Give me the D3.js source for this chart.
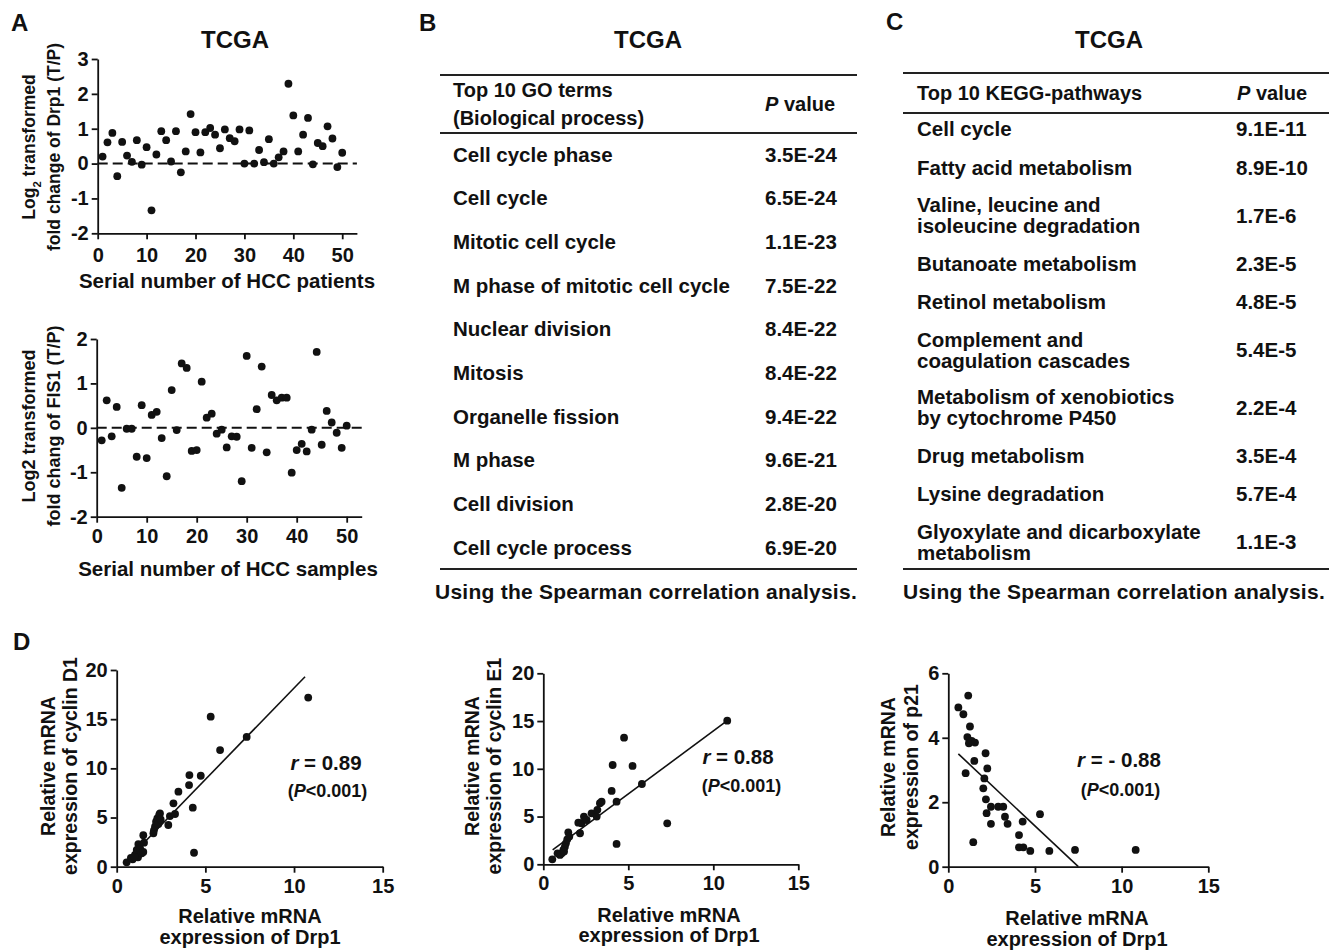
<!DOCTYPE html>
<html>
<head>
<meta charset="utf-8">
<script src="https://cdn.jsdelivr.net/npm/d3@7"></script>
<style>
  html, body { margin: 0; padding: 0; background: #fff; }
  svg { display: block; }
</style>
</head>
<body>
<script>
// ---------- data: panel A ----------
const serialNumbers = [1,2,3,4,5,6,7,8,9,10,11,12,13,14,15,16,17,18,19,20,21,22,23,24,25,
  26,27,28,29,30,31,32,33,34,35,36,37,38,39,40,41,42,43,44,45,46,47,48,49,50];
const drp1FoldChange = [0.2,0.61,0.88,-0.36,0.62,0.23,0.05,0.67,-0.03,0.47,
  -1.34,0.26,0.93,0.67,0.06,0.93,-0.25,0.35,1.42,0.9,
  0.32,0.9,1.02,0.83,0.44,0.98,0.73,0.64,0.98,0,
  0.95,0,0.39,0.04,0.7,0,0.18,0.35,2.29,1.38,
  0.35,0.83,1.31,-0.02,0.59,0.5,1.07,0.72,-0.1,0.31];
const fis1FoldChange = [-0.28,0.62,-0.19,0.47,-1.35,-0.02,-0.02,-0.65,0.51,-0.68,
  0.29,0.36,-0.23,-1.09,0.85,-0.05,1.45,1.35,-0.52,-0.5,
  1.04,0.23,0.32,-0.13,-0.04,-0.44,-0.19,-0.2,-1.2,1.62,
  -0.45,0.42,1.38,-0.55,0.74,0.62,0.68,0.68,-1.01,-0.5,
  -0.36,-0.53,-0.04,1.71,-0.38,0.38,0.12,-0.11,-0.45,0.05];
const serialTicks = [0,10,20,30,40,50];
const drp1Ticks = [-2,-1,0,1,2,3];
const fis1Ticks = [-2,-1,0,1,2];

// ---------- data: panel B ----------
const goTerms = ["Cell cycle phase","Cell cycle","Mitotic cell cycle","M phase of mitotic cell cycle",
  "Nuclear division","Mitosis","Organelle fission","M phase","Cell division","Cell cycle process"];
const goPValues = ["3.5E-24","6.5E-24","1.1E-23","7.5E-22","8.4E-22","8.4E-22","9.4E-22","9.6E-21","2.8E-20","6.9E-20"];

// ---------- data: panel C ----------
const keggTerms = [["Cell cycle"],["Fatty acid metabolism"],["Valine, leucine and","isoleucine degradation"],
  ["Butanoate metabolism"],["Retinol metabolism"],["Complement and","coagulation cascades"],
  ["Metabolism of xenobiotics","by cytochrome P450"],["Drug metabolism"],["Lysine degradation"],
  ["Glyoxylate and dicarboxylate","metabolism"]];
const keggPValues = ["9.1E-11","8.9E-10","1.7E-6","2.3E-5","4.8E-5","5.4E-5","2.2E-4","3.5E-4","5.7E-4","1.1E-3"];

// ---------- data: panel D ----------
const drp1ForD1 = [0.56,0.8,0.9,1.03,1.13,1.2,1.22,1.32,1.41,1.5,1.5,1.54,1.0,
  2.07,2.1,2.16,2.22,2.29,2.35,2.4,2.44,2.48,2.91,3.0,3.2,3.29,3.48,
  4.08,4.1,4.29,4.36,4.74,5.3,5.83,7.33,10.8];
const cyclinD1 = [0.44,0.9,0.75,1.19,1.7,0.95,2.3,1.86,1.36,3.2,1.5,2.44,1.0,
  3.4,3.7,4.07,4.58,4.9,4.34,5.3,5.42,4.8,4.24,5.15,6.44,5.36,7.63,
  8.3,9.32,6.0,1.42,9.25,15.25,11.86,13.2,17.2];
const fitD1X = [0.5, 10.62], fitD1Y = [0.5, 19.32];

const drp1ForE1 = [0.53,0.84,0.98,1.08,1.18,1.22,1.27,1.33,1.41,1.47,1.53,
  2.06,2.16,2.25,2.39,2.55,2.84,3.14,3.18,3.33,3.43,
  4.02,4.08,4.31,4.31,4.75,5.25,5.8,7.29,10.82];
const cyclinE1 = [0.52,1.15,0.98,1.15,1.5,1.33,1.85,2.2,2.62,3.35,2.9,
  4.36,3.25,4.3,5.0,4.64,5.34,5.0,5.7,6.4,6.56,
  7.68,10.4,6.56,2.13,13.26,10.3,8.41,4.29,15.04];
const fitE1X = [0.55, 10.82], fitE1Y = [1.5, 15.04];

const drp1ForP21 = [0.58,0.87,1.15,1.25,1.1,1.19,1.35,1.54,1.0,1.5,
  2.15,2.25,2.08,2.02,2.17,2.21,2.46,2.46,2.88,3.17,
  3.27,3.42,4.29,4.08,4.08,4.33,4.73,5.29,5.83,7.31,1.44,10.81];
const p21 = [4.94,4.73,5.31,4.35,4.02,3.83,3.9,3.85,2.9,3.28,
  3.52,3.05,2.74,2.43,2.09,1.66,1.86,1.33,1.86,1.86,
  1.55,1.33,1.4,0.98,0.6,0.6,0.49,1.63,0.49,0.52,0.76,0.52];
const fitP21X = [0.58, 7.5], fitP21Y = [3.5, 0];

const drp1Ticks15 = [0,5,10,15];
const cyclinTicks = [0,5,10,15,20];
const p21Ticks = [0,2,4,6];

// ---------- drawing ----------
const FONT = "'Liberation Sans', Arial, Helvetica, sans-serif";
const INK = "#111";

const svg = d3.select("body").append("svg")
  .attr("width", 1344).attr("height", 951)
  .attr("font-family", FONT).attr("font-weight", "bold").attr("fill", INK);

const label = (x, y, txt, size, anchor = "start") =>
  svg.append("text").attr("x", x).attr("y", y).attr("font-size", size)
    .attr("text-anchor", anchor).text(txt);

// rotated two-line axis title; lines = [[text, baselineX], ...]
const yTitle = (lines, cy, size) => lines.forEach(([txt, bx]) => {
  const t = svg.append("text").attr("transform", `translate(${bx},${cy}) rotate(-90)`)
    .attr("text-anchor", "middle").attr("font-size", size);
  if (Array.isArray(txt)) {
    t.append("tspan").text(txt[0]);
    t.append("tspan").attr("font-size", size * 0.65).attr("baseline-shift", "sub").text(txt[1]);
    t.append("tspan").text(txt[2]);
  } else t.text(txt);
});

// plain integer labels with an ascii hyphen for negatives
const plain = d => String(d);

const scatter = cfg => {
  const x = d3.scaleLinear().domain(cfg.xDomain).range(cfg.xRange);
  const y = d3.scaleLinear().domain(cfg.yDomain).range(cfg.yRange);

  const gx = svg.append("g").attr("transform", `translate(0,${cfg.yRange[0]})`)
    .call(d3.axisBottom(x).tickValues(cfg.xTicks).tickFormat(plain)
      .tickSize(6).tickSizeOuter(0).tickPadding(cfg.padX));
  const gy = svg.append("g").attr("transform", `translate(${cfg.xRange[0]},0)`)
    .call(d3.axisLeft(y).tickValues(cfg.yTicks).tickFormat(plain)
      .tickSize(6).tickSizeOuter(0).tickPadding(3));
  [gx, gy].forEach(g => {
    g.attr("font-family", FONT).attr("font-size", cfg.tickFont).attr("font-weight", "bold").attr("color", INK);
    g.selectAll(".domain, line").attr("stroke-width", 1.8);
  });

  if (cfg.zeroLine) {
    svg.append("line")
      .attr("x1", x(cfg.xDomain[0])).attr("x2", x(cfg.xDomain[1]))
      .attr("y1", y(0)).attr("y2", y(0))
      .attr("stroke", INK).attr("stroke-width", 2).attr("stroke-dasharray", "10,5");
  }
  if (cfg.fitX) {
    svg.append("line")
      .attr("x1", x(cfg.fitX[0])).attr("y1", y(cfg.fitY[0]))
      .attr("x2", x(cfg.fitX[1])).attr("y2", y(cfg.fitY[1]))
      .attr("stroke", INK).attr("stroke-width", 1.6);
  }
  svg.append("g").selectAll("circle")
    .data(cfg.xs.map((v, i) => [v, cfg.ys[i]]))
    .join("circle")
      .attr("cx", d => x(d[0])).attr("cy", d => y(d[1]))
      .attr("r", 3.9).attr("fill", INK);
};

// ----- panel A -----
label(11, 31, "A", 24);
label(235, 48, "TCGA", 24, "middle");
scatter({xDomain: [0, 53], xRange: [97.7, 356.9], yDomain: [-2, 3], yRange: [233.3, 59],
  xTicks: serialTicks, yTicks: drp1Ticks, xs: serialNumbers, ys: drp1FoldChange,
  tickFont: 20, padX: 9, zeroLine: true});
yTitle([[["Log", "2", " transformed"], 35], ["fold change of Drp1 (T/P)", 60]], 147, 17.5);
label(227, 288, "Serial number of HCC patients", 20.5, "middle");

scatter({xDomain: [0, 53], xRange: [96.7, 361.7], yDomain: [-2, 2], yRange: [516.7, 339],
  xTicks: serialTicks, yTicks: fis1Ticks, xs: serialNumbers, ys: fis1FoldChange,
  tickFont: 20, padX: 6, zeroLine: true});
yTitle([["Log2 transformed", 35], ["fold chang of FIS1 (T/P)", 60]], 426, 18);
label(228, 576, "Serial number of HCC samples", 20.5, "middle");

// ----- panel B -----
const rule = (x1, x2, y) => svg.append("line").attr("x1", x1).attr("x2", x2)
  .attr("y1", y).attr("y2", y).attr("stroke", "#222").attr("stroke-width", 2.2);

label(419, 31, "B", 24);
label(648, 48, "TCGA", 24, "middle");
rule(440, 857, 75); rule(440, 857, 133); rule(440, 857, 569);
label(453, 96.5, "Top 10 GO terms", 20);
label(453, 124.5, "(Biological process)", 20);
const pHead = (x, y) => {
  const t = svg.append("text").attr("x", x).attr("y", y).attr("font-size", 20);
  t.append("tspan").attr("font-style", "italic").text("P");
  t.append("tspan").text(" value");
};
pHead(765, 110.5);

const goRow = d3.scaleBand().domain(goTerms).range([132.2, 569.2]);
svg.append("g").selectAll("text.term").data(goTerms).join("text")
  .attr("x", 453).attr("y", d => goRow(d) + goRow.bandwidth() / 2 + 7.5)
  .attr("font-size", 20.5).text(d => d);
svg.append("g").selectAll("text.pv").data(goPValues).join("text")
  .attr("x", 765).attr("y", (d, i) => goRow(goTerms[i]) + goRow.bandwidth() / 2 + 7.5)
  .attr("font-size", 20.5).text(d => d);
label(435, 598.5, "Using the Spearman correlation analysis.", 21).attr("letter-spacing", 0.25);

// ----- panel C -----
label(886, 30, "C", 24);
label(1109, 48, "TCGA", 24, "middle");
rule(903, 1329, 73); rule(903, 1329, 113); rule(903, 1329, 569);
label(917, 100, "Top 10 KEGG-pathways", 20);
pHead(1237, 100);

const rowH = n => n === 1 ? 38.5 : 57.5;
let cursor = 109.5;
const keggCenters = keggTerms.map(t => { const c = cursor + rowH(t.length) / 2; cursor += rowH(t.length); return c; });
keggTerms.forEach((lines, i) => {
  const off = lines.length === 1 ? [0] : [-10.5, 10.5];
  lines.forEach((ln, j) => label(917, keggCenters[i] + off[j] + 7.5, ln, 20.5));
});
svg.append("g").selectAll("text").data(keggPValues).join("text")
  .attr("x", 1236).attr("y", (d, i) => keggCenters[i] + 7.5)
  .attr("font-size", 20.5).text(d => d);
label(903, 598.5, "Using the Spearman correlation analysis.", 21).attr("letter-spacing", 0.25);

// ----- panel D -----
label(13, 650, "D", 24);
const rText = (cx, y, value) => {
  const t = svg.append("text").attr("x", cx).attr("y", y).attr("font-size", 20.5).attr("text-anchor", "middle");
  t.append("tspan").attr("font-style", "italic").text("r");
  t.append("tspan").text(" = " + value);
};
const pText = (cx, y) => {
  const t = svg.append("text").attr("x", cx).attr("y", y).attr("font-size", 18).attr("text-anchor", "middle");
  t.append("tspan").text("(");
  t.append("tspan").attr("font-style", "italic").text("P");
  t.append("tspan").text("<0.001)");
};

scatter({xDomain: [0, 15], xRange: [116.7, 382.7], yDomain: [0, 20], yRange: [866.7, 670],
  xTicks: drp1Ticks15, yTicks: cyclinTicks, xs: drp1ForD1, ys: cyclinD1,
  tickFont: 20, padX: 6, fitX: fitD1X, fitY: fitD1Y});
yTitle([["Relative mRNA", 55], ["expression of cyclin D1", 77]], 766, 19.5);
label(250, 923, "Relative mRNA", 20, "middle");
label(250, 944, "expression of Drp1", 20, "middle");
rText(326, 770, "0.89");
pText(327.5, 797);

scatter({xDomain: [0, 15], xRange: [543.3, 798.3], yDomain: [0, 20], yRange: [864.3, 673.3],
  xTicks: drp1Ticks15, yTicks: cyclinTicks, xs: drp1ForE1, ys: cyclinE1,
  tickFont: 20, padX: 6, fitX: fitE1X, fitY: fitE1Y});
yTitle([["Relative mRNA", 479], ["expression of cyclin E1", 501]], 766, 19.5);
label(669, 922, "Relative mRNA", 20, "middle");
label(669, 942, "expression of Drp1", 20, "middle");
rText(738, 764, "0.88");
pText(741.5, 792);

scatter({xDomain: [0, 15], xRange: [948.3, 1208.3], yDomain: [0, 6], yRange: [866.7, 673.3],
  xTicks: drp1Ticks15, yTicks: p21Ticks, xs: drp1ForP21, ys: p21,
  tickFont: 20, padX: 6, fitX: fitP21X, fitY: fitP21Y});
yTitle([["Relative mRNA", 895], ["expression of p21", 918]], 767, 19.5);
label(1077, 925, "Relative mRNA", 20, "middle");
label(1077, 946, "expression of Drp1", 20, "middle");
rText(1119, 767, "- 0.88");
pText(1120.5, 796);
</script>
</body>
</html>
